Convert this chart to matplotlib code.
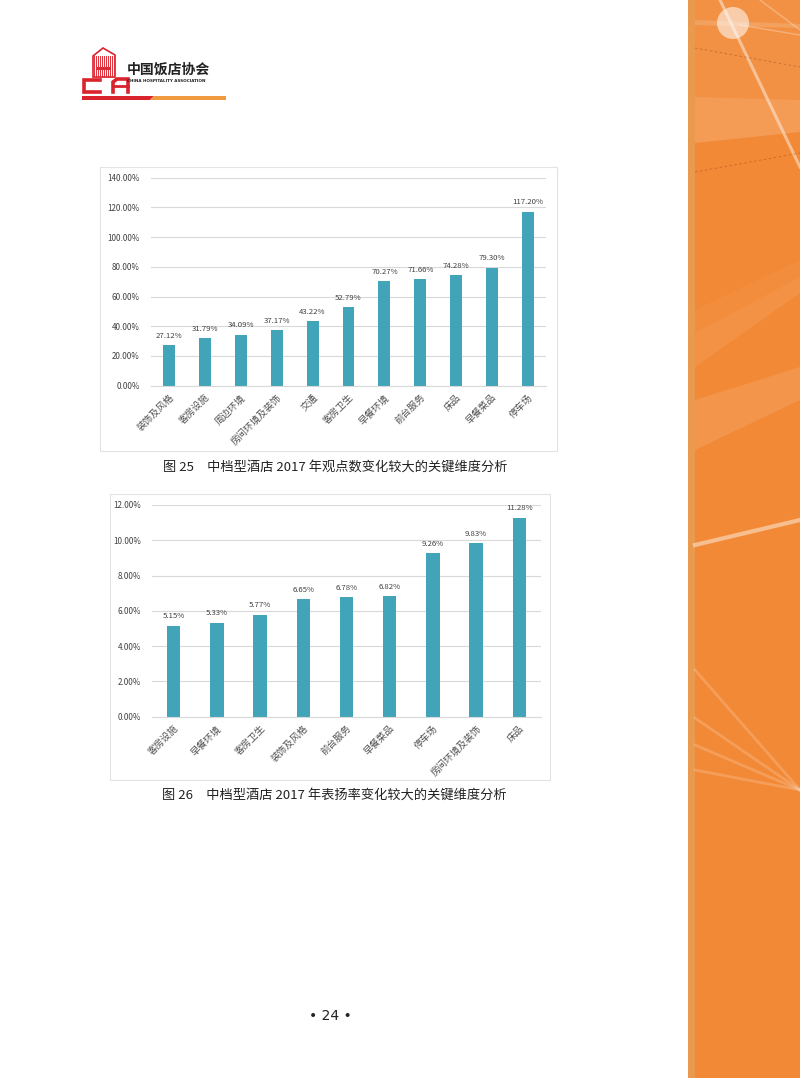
import matplotlib.pyplot as plt
from matplotlib.patches import Rectangle, Polygon, Circle
from matplotlib.ticker import FuncFormatter

plt.rcParams['font.family'] = ['Noto Sans CJK SC', 'DejaVu Sans']

# data for figure 25 (观点数变化)
cats1 = ['装饰及风格', '客房设施', '周边环境', '房间环境及装饰', '交通', '客房卫生',
         '早餐环境', '前台服务', '床品', '早餐菜品', '停车场']
vals1 = [27.12, 31.79, 34.09, 37.17, 43.22, 52.79, 70.27, 71.66, 74.28, 79.30, 117.20]
ticks1 = [0, 20, 40, 60, 80, 100, 120, 140]

# data for figure 26 (表扬率变化)
cats2 = ['客房设施', '早餐环境', '客房卫生', '装饰及风格', '前台服务', '早餐菜品',
         '停车场', '房间环境及装饰', '床品']
vals2 = [5.15, 5.33, 5.77, 6.65, 6.78, 6.82, 9.26, 9.83, 11.28]
ticks2 = [0, 2, 4, 6, 8, 10, 12]

caption1 = '图 25　中档型酒店 2017 年观点数变化较大的关键维度分析'
caption2 = '图 26　中档型酒店 2017 年表扬率变化较大的关键维度分析'

W, H = 800, 1078
bar_color = '#42A4B9'
grid_color = '#D9D9D9'
text_color = '#404040'

fig = plt.figure(figsize=(W / 100, H / 100), dpi=100)

# page layer in pixel coordinates
bg = fig.add_axes([0, 0, 1, 1], zorder=0)
bg.set_xlim(0, W)
bg.set_ylim(H, 0)
bg.axis('off')

# orange strip on the right
bg.add_patch(Rectangle((688, 0), 112, H, color='#F28936', lw=0))
bg.add_patch(Rectangle((688, 0), 7, H, color='#E99A4E', lw=0))
bg.add_patch(Polygon([(695, 0), (800, 0), (800, 100), (695, 97)], color='white', alpha=0.07, lw=0))
bg.add_patch(Polygon([(695, 97), (800, 100), (800, 132), (695, 143)], color='white', alpha=0.16, lw=0))
bg.add_patch(Polygon([(695, 20), (800, 24), (800, 28), (695, 25)], color='white', alpha=0.15, lw=0))
bg.add_patch(Polygon([(800, 260), (800, 277), (695, 333), (695, 310)], color='white', alpha=0.04, lw=0))
bg.add_patch(Polygon([(695, 333), (800, 277), (800, 293), (695, 367)], color='white', alpha=0.08, lw=0))
bg.add_patch(Polygon([(695, 400), (800, 367), (800, 400), (695, 450)], color='white', alpha=0.10, lw=0))
bg.add_patch(Circle((733, 23), 16, color='white', alpha=0.55, lw=0))
bg.plot([720, 800], [0, 167], color='white', alpha=0.45, lw=2.2)
bg.plot([760, 800], [0, 30], color='white', alpha=0.3, lw=1)
bg.plot([740, 800], [25, 35], color='white', alpha=0.3, lw=1)
bg.plot([695, 800], [48, 67], color='#A65420', alpha=0.6, lw=0.6, ls=(0, (3, 3)))
bg.plot([695, 800], [172, 153], color='#A65420', alpha=0.6, lw=0.6, ls=(0, (3, 3)))
bg.plot([695, 800], [545, 520], color='white', alpha=0.45, lw=3)
for y0 in [670, 718, 745, 770]:
    bg.plot([695, 800], [y0, 790], color='white', alpha=0.18, lw=2)

# header logo
for xs in range(94, 115, 2):
    bg.plot([xs, xs], [56, 77], color='#E0303A', lw=0.7)
bg.add_patch(Polygon([(93, 77), (93, 56), (103, 48), (115, 55), (115, 77)], fill=False,
                     ec='#D9232D', lw=1.2))
bg.add_patch(Rectangle((97, 67), 14, 3, color='#D9232D', lw=0))
bg.plot([100, 84, 84, 100], [80, 80, 92, 92], color='#D9232D', lw=2.6, solid_joinstyle='miter')
bg.plot([113, 113, 117, 128, 128], [92, 82, 79, 79, 92], color='#D9232D', lw=2.6, solid_joinstyle='miter')
bg.plot([113, 128], [86, 86], color='#D9232D', lw=2)
bg.text(127, 70, '中国饭店协会', fontsize=10, fontweight='bold', color='#222222', va='center', ha='left')
bg.text(127, 81.5, 'CHINA HOSPITALITY ASSOCIATION', fontsize=3, fontweight='bold',
        color='#222222', va='center', ha='left', family='DejaVu Sans')
bg.add_patch(Polygon([(82, 96), (154, 96), (150, 100), (82, 100)], color='#D9232D', lw=0))
bg.add_patch(Polygon([(154, 96), (226, 96), (226, 100), (150, 100)], color='#EF9A3E', lw=0))

# chart frames
bg.add_patch(Rectangle((100, 167), 457, 284, fill=False, ec='#E3E3E3', lw=0.8))
bg.add_patch(Rectangle((110, 494), 440, 286, fill=False, ec='#E3E3E3', lw=0.8))

# captions and page number
bg.text(335, 467, caption1, fontsize=9.5, color='#222222', ha='center', va='center')
bg.text(334, 795, caption2, fontsize=9.5, color='#222222', ha='center', va='center')
bg.text(330, 1016, '• 24 •', fontsize=10, color='#222222', ha='center', va='center',
        family='DejaVu Sans')


def px_axes(l, t, r, b):
    return fig.add_axes([l / W, 1 - b / H, (r - l) / W, (b - t) / H], zorder=1)


def bar_chart(ax, cats, vals, ticks, width):
    x = range(len(cats))
    ax.bar(x, vals, width=width, color=bar_color, zorder=2)
    for xi, v in zip(x, vals):
        ax.annotate(f'{v:.2f}%', (xi, v), xytext=(0, 4), textcoords='offset points',
                    ha='center', va='bottom', fontsize=5.6, color=text_color)
    ax.set_xlim(-0.5, len(cats) - 0.5)
    ax.set_ylim(ticks[0], ticks[-1])
    ax.set_yticks(ticks)
    ax.yaxis.set_major_formatter(FuncFormatter(lambda v, p: f'{v:.2f}%'))
    ax.set_xticks(list(x))
    ax.set_xticklabels(cats, rotation=45, ha='right', va='top', rotation_mode='anchor',
                       fontsize=6.8, color='#505050')
    ax.tick_params(axis='y', length=0, pad=8, labelsize=5.8, labelcolor=text_color)
    ax.tick_params(axis='x', length=0, pad=5)
    ax.grid(axis='y', color=grid_color, lw=0.8, zorder=0)
    for s in ['top', 'right', 'left']:
        ax.spines[s].set_visible(False)
    ax.spines['bottom'].set_color(grid_color)
    ax.spines['bottom'].set_linewidth(0.8)
    ax.set_facecolor('none')


ax1 = px_axes(151, 177.7, 546, 385.7)
bar_chart(ax1, cats1, vals1, ticks1, 0.33)

ax2 = px_axes(152, 505, 541, 716.7)
bar_chart(ax2, cats2, vals2, ticks2, 0.31)

fig.savefig('out.png', dpi=100)
